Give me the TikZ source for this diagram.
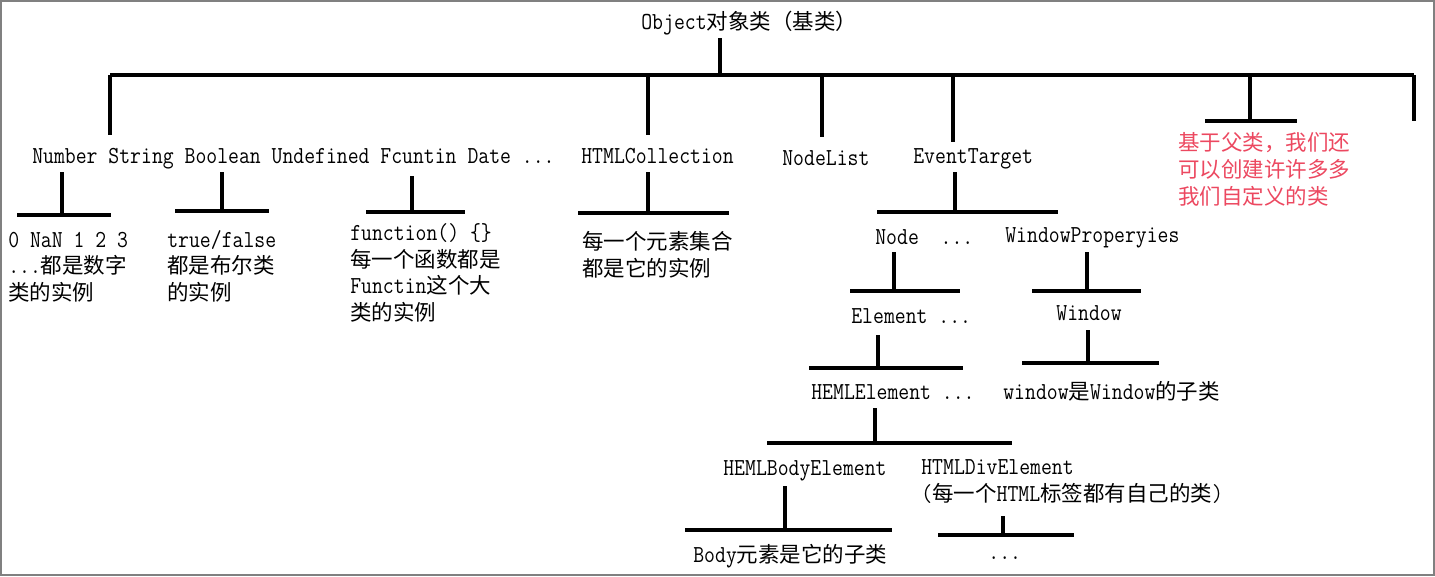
\documentclass[tikz,border=0pt]{standalone}
\usepackage{fontspec}
\setmainfont{Latin Modern Mono}[FakeStretch=0.865]
\newfontfamily\cjkfont{Noto Sans CJK SC}[Scale=0.88]
\newcommand{\zh}[1]{{\cjkfont #1}}
\usepackage{tikz}
\usetikzlibrary{positioning,calc}

\definecolor{noteRed}{RGB}{236,72,96}
\definecolor{frameGray}{RGB}{128,128,128}

\tikzset{
    link/.style={line width=1.8pt},
    label/.style={anchor=base west, inner sep=0pt, align=left,
                  font=\fontsize{13.9}{15}\selectfont},
    note/.style={label, text=noteRed, font=\fontsize{13.9}{15.3}\selectfont},
    pics/tee/.style args={#1/#2/#3}{code={
        \draw[link] (0,0) -- (0,-#1);
        \draw[link] (-#2,0) -- (#3,0);
    }}
}

\begin{document}
\begin{tikzpicture}[x=0.02cm, y=-0.02cm]
    \useasboundingbox (0,0) rectangle (1435,576);
    \draw[frameGray, line width=1.1pt] (1,1) rectangle (1434,575);

    % class names and notes (multi-line texts sit on their last line)
    \node [label] (title)  at (641,29)  {Object\zh{对象类（基类）}};
    \node [label] (types)  at (32,163)  {Number String Boolean Undefined Fcuntin Date ...};
    \node [label] (coll)   at (581,163) {HTMLCollection};
    \node [label] (nlist)  at (782,165) {NodeList};
    \node [label] (evt)    at (913,163) {EventTarget};
    \node [note]  (custom) at (1178,204) {\zh{基于父类，我们还}\\\zh{可以创建许许多多}\\\zh{我们自定义的类}};

    \node [label] (numEx)  at (8,300)   {0 NaN 1 2 3\\...\zh{都是数字}\\\zh{类的实例}};
    \node [label] (boolEx) at (167,300) {true/false\\\zh{都是布尔类}\\\zh{的实例}};
    \node [label] (funcEx) at (350,320) {function() \{\}\\\zh{每一个函数都是}\\Functin\zh{这个大}\\\zh{类的实例}};
    \node [label] (collEx) at (582,276) {\zh{每一个元素集合}\\\zh{都是它的实例}};

    \node [label] (nodeCls) at (875,244)  {Node~~...};
    \node [label] (wprop)   at (1005,242) {WindowProperyies};
    \node [label] (elem)    at (851,323)  {Element ...};
    \node [label] (win)     at (1056,320) {Window};
    \node [label] (html)    at (811,399)  {HEMLElement ...};
    \node [label] (winEx)   at (1003,399) {window\zh{是}Window\zh{的子类}};
    \node [label] (body)    at (723,475)  {HEMLBodyElement};
    \node [label] (div)     at (921,501)  {HTMLDivElement\\(\zh{每一个}HTML\zh{标签都有自己的类})};
    \node [label] (bodyEx)  at (693,562)  {Body\zh{元素是它的子类}};
    \node [label] (divEx)   at (988,559)  {...};

    % main bar under Object
    \coordinate (root) at (720,75);
    \draw [link] (root) -- ++(0,-37);
    \draw [link] (110,75) coordinate (barL) -- (1414,75) coordinate (barR);
    \foreach \x/\d in {110/60, 648/60, 822/62, 953/67, 1414/46}
        \draw [link] (\x,75) -- ++(0,\d);

    % tees: stub up / bar left / bar right
    \pic at (62,215)   {tee=43/45/49};
    \pic at (222,211)  {tee=39/47/47};
    \pic at (412,212)  {tee=36/46/53};
    \pic at (648,213)  {tee=41/70/81};
    \pic at (955,212)  {tee=40/78/103};
    \pic at (1250,121) {tee=46/45/47};
    \pic at (894,291)  {tee=39/44/66};
    \pic at (1087,291) {tee=39/55/54};
    \pic at (878,368)  {tee=33/69/85};
    \pic at (1088,363) {tee=33/66/71};
    \pic at (875,443)  {tee=35/108/137};
    \pic at (785,530)  {tee=44/100/107};
    \pic at (1003,535) {tee=19/65/71};
\end{tikzpicture}
\end{document}
